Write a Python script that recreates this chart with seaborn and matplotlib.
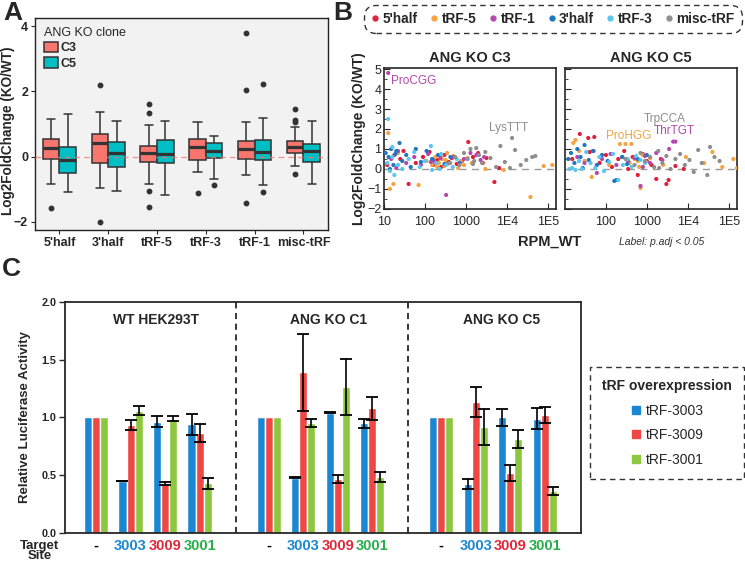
import matplotlib
matplotlib.use('Agg')

import pandas as pd
import matplotlib.pyplot as plt
import seaborn as sns
from matplotlib.lines import Line2D
from matplotlib.patches import Patch

# ---------------- Panel A: box summaries ----------------
box_cats = ["5'half", "3'half", "tRF-5", "tRF-3", "tRF-1", "misc-tRF"]
c3_low = [-0.84, -0.95, -0.83, -0.46, -0.56, -0.29]
c3_q1 = [-0.06, -0.21, -0.17, -0.10, -0.06, 0.10]
c3_med = [0.26, 0.41, 0.11, 0.29, 0.23, 0.29]
c3_q3 = [0.53, 0.69, 0.34, 0.55, 0.49, 0.48]
c3_high = [1.14, 1.36, 0.96, 1.07, 1.06, 0.90]
c3_out = [[-1.57], [2.20, -2.00], [1.62, 1.33, -1.07, -1.54], [-1.12],
          [3.78, 2.03, -1.41], [1.47, 1.11, 1.07, -0.52]]
c5_low = [-1.10, -1.05, -1.17, -0.69, -0.88, -0.85]
c5_q1 = [-0.51, -0.32, -0.21, -0.05, -0.11, -0.18]
c5_med = [-0.10, 0.12, 0.07, 0.17, 0.15, 0.17]
c5_q3 = [0.29, 0.45, 0.51, 0.42, 0.52, 0.40]
c5_high = [1.31, 1.08, 1.10, 0.63, 1.18, 1.08]
c5_out = [[], [], [], [-0.86], [2.24, -1.09], []]

# ---------------- Panel B: scatter points (RPM_WT, log2FC) ----------------
frag_types = ["5'half", "tRF-5", "tRF-1", "3'half", "tRF-3", "misc-tRF"]
frag_colors = ["#E0203A", "#F4A340", "#B548AE", "#1D78C0", "#5CC6EE", "#8E8E8E"]

c3_x = {
    "5'half": [12, 18, 25, 40, 60, 90, 130, 160, 200, 250, 300, 380, 450, 600, 800, 1150, 1500, 2000, 2600, 3200, 5000, 6500, 30],
    "tRF-5": [12.7, 14, 17, 22, 70, 110, 150, 180, 220, 260, 300, 350, 420, 500, 650, 750, 900, 1100, 1400, 3000, 8500, 38000, 80000, 130000, 250, 200, 320],
    "tRF-1": [12.7, 15, 22, 35, 55, 80, 120, 170, 240, 330, 350, 500, 700, 900, 1300, 1800, 2300, 2800, 20, 140],
    "3'half": [11, 13, 15, 17, 20, 24, 28, 35, 45, 60, 80, 110, 150, 210, 300, 420, 700, 14, 19],
    "tRF-3": [12.7, 12, 14, 16, 18, 22, 28, 40, 55, 75, 100, 140, 150, 190, 250, 330, 480, 600, 16, 230],
    "misc-tRF": [13500, 400, 550, 700, 900, 1100, 1300, 1600, 1800, 2100, 2500, 3000, 4000, 5500, 7000, 9000, 12000, 16000, 22000, 30000, 42000, 50000, 1500],
}
c3_y = {
    "5'half": [0.2, 0.7, 0.5, -0.75, 0.3, 0.6, 0.85, 0.2, 0.45, 0.1, 0.7, 0.35, 0.55, 0.25, 0.4, 1.35, 0.6, 0.8, 0.3, 0.55, -0.65, 0.05, 0.9],
    "tRF-5": [1.8, -1.0, -0.75, 0.8, -0.8, 0.4, 0.2, 0.6, 0.3, 0.5, 0.15, 0.8, 0.3, 0.65, 0.05, 0.4, 0.2, 0.55, 0.3, 0.0, -0.05, -1.4, 0.15, 0.2, 0.7, 0.1, 0.45],
    "tRF-1": [4.8, 0.5, 0.9, 0.3, 0.6, 0.2, 0.75, 0.4, 0.55, -1.3, 0.25, 0.6, 0.3, 0.5, 0.8, 0.7, 0.45, 0.6, 0.05, 0.35],
    "3'half": [0.8, 0.6, 1.0, 0.2, 0.9, 1.3, 0.4, 0.7, 0.1, 1.0, 0.35, 0.9, 0.5, 0.7, 0.25, 0.6, 0.3, 0.0, 0.75],
    "tRF-3": [2.5, 0.3, -0.1, 0.6, -0.3, 0.2, 0.0, 0.5, 0.85, 0.1, 0.4, 1.15, -0.05, 0.3, 0.75, 0.2, 0.1, 0.5, 1.1, 0.0],
    "misc-tRF": [1.55, 0.3, 0.6, 0.2, 0.8, 0.5, 1.0, 0.4, 1.05, 0.7, 0.3, 0.85, 0.55, 0.1, 1.15, 0.35, 0.05, 0.95, 0.2, 0.45, 0.6, 0.65, 0.25],
}
c5_x = {
    "5'half": [15, 23, 37, 52, 70, 100, 140, 200, 280, 350, 450, 600, 800, 1000, 1300, 1700, 2200, 3000, 3400, 5000, 8000, 40],
    "tRF-5": [16, 18, 22, 30, 45, 70, 120, 220, 300, 420, 380, 500, 650, 800, 950, 1200, 700, 2500, 9000, 25000, 40000, 70000, 130000, 160000, 600],
    "tRF-1": [20, 30, 50, 80, 130, 180, 250, 350, 500, 700, 900, 1200, 1700, 2400, 3500, 4400, 5000, 800, 60],
    "3'half": [12, 14, 17, 20, 24, 30, 38, 48, 60, 80, 110, 160, 180, 250, 330, 600, 1000, 27],
    "tRF-3": [13, 15, 18, 22, 26, 33, 42, 55, 70, 90, 120, 150, 200, 260, 340, 420, 550, 700, 900],
    "misc-tRF": [300, 500, 700, 900, 1200, 1500, 1900, 2400, 3000, 3800, 5000, 6500, 8500, 11000, 14000, 18000, 22000, 30000, 35000, 45000, 60000, 2000],
}
c5_y = {
    "5'half": [0.5, 1.75, 1.55, 1.6, 0.3, 0.7, 0.1, 0.5, 0.9, 0.0, 0.6, -0.3, 0.75, 0.4, 0.2, -0.5, 0.5, -0.75, -0.55, 0.15, 0.0, 0.85],
    "tRF-5": [1.3, 1.45, 0.9, 0.4, -0.4, 0.6, 0.2, 1.25, 1.25, 1.25, 0.3, 0.5, 0.1, 0.7, 0.35, 0.55, -0.95, 0.2, 0.6, 0.3, 0.85, 0.1, 0.5, 0.05, 0.4],
    "tRF-1": [0.6, 0.3, 0.9, 0.5, 0.75, 0.2, 0.6, 0.4, 0.55, -0.85, 0.65, 0.3, 0.8, 0.45, 1.0, 1.37, 1.37, 0.1, -0.2],
    "3'half": [0.5, 0.8, 0.3, 1.0, 0.6, 1.2, 0.45, 0.9, 0.2, 0.7, 0.4, -0.6, -0.55, 0.6, 0.25, 0.5, 0.7, 0.05],
    "tRF-3": [0.0, 0.05, -0.05, 0.4, 0.0, 0.85, 0.3, 0.05, 0.6, -0.1, 0.35, 0.75, -0.55, 0.2, 0.5, 0.1, 0.65, 0.45, 0.3],
    "misc-tRF": [0.5, 0.2, 0.8, 0.4, 0.6, 0.1, 0.9, 0.3, 0.65, 0.0, 0.5, 0.75, 0.2, 0.45, -0.15, 0.95, 0.3, -0.3, 1.1, 0.6, 0.4, 0.05],
}
# labelled (p.adj < 0.05) tRNAs: name, x, y, type
c3_labels = [("ProCGG", 14.5, 4.4, "tRF-1"), ("LysTTT", 11000, 2.05, "misc-tRF")]
c5_labels = [("TrpCCA", 2800, 2.5, "misc-tRF"), ("ThrTGT", 4600, 1.92, "tRF-1"), ("ProHGG", 360, 1.66, "tRF-5")]

# ---------------- Panel C: luciferase bars ----------------
cell_lines = ["WT HEK293T", "ANG KO C1", "ANG KO C5"]
target_sites = ["-", "3003", "3009", "3001"]
overexp = ["tRF-3003", "tRF-3009", "tRF-3001"]
bar_colors = ["#1B87D2", "#EE4744", "#8DC63F"]
site_colors = ["black", "#1B87D2", "#E0283A", "#27AE4A"]
# rows: target site, cols: overexpressed tRF
wt_mean = [[1.0, 1.0, 1.0], [0.45, 0.935, 1.06], [0.965, 0.43, 0.99], [0.94, 0.865, 0.43]]
wt_err = [[0, 0, 0], [0.004, 0.04, 0.04], [0.045, 0.012, 0.022], [0.09, 0.075, 0.05]]
c1_mean = [[1.0, 1.0, 1.0], [0.48, 1.39, 0.955], [1.04, 0.47, 1.265], [0.95, 1.08, 0.485]]
c1_err = [[0, 0, 0], [0.008, 0.33, 0.035], [0.004, 0.035, 0.24], [0.04, 0.1, 0.04]]
c5_mean = [[1.0, 1.0, 1.0], [0.425, 1.13, 0.915], [1.0, 0.52, 0.815], [0.99, 1.02, 0.36]]
c5_err = [[0, 0, 0], [0.045, 0.13, 0.155], [0.07, 0.07, 0.075], [0.088, 0.07, 0.035]]

sns.set_style("ticks")
plt.rcParams['font.family'] = ['Liberation Sans', 'DejaVu Sans']
plt.rcParams['axes.linewidth'] = 1.0

fig = plt.figure(figsize=(7.45, 5.63), dpi=100)


def expand_box(lo, q1, md, q3, hi, outs):
    # raw values whose quartiles/whiskers reproduce the summary
    low_out = [v for v in outs if v < lo]
    high_out = [v for v in outs if v > hi]
    return low_out + [lo] + [q1] * 6 + [md] * 5 + [q3] * 6 + [hi] + high_out


rows = []
for i, cat in enumerate(box_cats):
    for v in expand_box(c3_low[i], c3_q1[i], c3_med[i], c3_q3[i], c3_high[i], c3_out[i]):
        rows.append({"group": cat, "clone": "C3", "log2fc": v})
    for v in expand_box(c5_low[i], c5_q1[i], c5_med[i], c5_q3[i], c5_high[i], c5_out[i]):
        rows.append({"group": cat, "clone": "C5", "log2fc": v})
df_a = pd.DataFrame(rows)

# ---- Panel A ----
clone_pal = {"C3": "#F8766D", "C5": "#00BFC4"}
ax_a = fig.add_axes([0.047, 0.5915, 0.393, 0.3766])
ax_a.set_facecolor("#F2F2F2")
sns.boxplot(data=df_a, x="group", y="log2fc", hue="clone", order=box_cats, hue_order=["C3", "C5"],
            palette=clone_pal, width=0.68, gap=0, linecolor="#333333", linewidth=1.1, saturation=1,
            fliersize=3.2, flierprops=dict(marker="o", markerfacecolor="#333333", markeredgecolor="#333333"),
            medianprops=dict(linewidth=2.3, color="#333333"), legend=False, ax=ax_a)
ax_a.axhline(0, color="#F8766D", ls=(0, (4, 3)), lw=1.0, alpha=0.75, zorder=6)
ax_a.set_ylim(-2.25, 4.25)
ax_a.set_yticks([-2, 0, 2, 4])
ax_a.set_xlabel("")
ax_a.set_ylabel("Log2FoldChange (KO/WT)", fontsize=9.8, fontweight="bold")
ax_a.yaxis.set_label_coords(-0.068, 0.47)
ax_a.tick_params(axis="both", labelsize=9, length=3, width=0.8, pad=2)
for lab in ax_a.get_xticklabels() + ax_a.get_yticklabels():
    lab.set_fontweight("bold")
for sp in ax_a.spines.values():
    sp.set_color("#222222")
a_handles = [Patch(facecolor=clone_pal[c], edgecolor="#333333", linewidth=1.1) for c in ["C3", "C5"]]
leg_a = ax_a.legend(a_handles, ["C3", "C5"], title="ANG KO clone", loc="upper left", frameon=False,
                    fontsize=9, title_fontsize=9, handlelength=1.1, handleheight=0.9,
                    handletextpad=0.2, labelspacing=0.25, borderaxespad=0.3)
leg_a._legend_box.align = "left"
for t in leg_a.get_texts():
    t.set_fontweight("bold")

# ---- Panel B ----
type_pal = dict(zip(frag_types, frag_colors))


def scatter_frame(xs, ys):
    recs = []
    for t in frag_types:
        for x, y in zip(xs[t], ys[t]):
            recs.append({"rpm": x, "lfc": y, "type": t})
    return pd.DataFrame(recs)


for k, (xs, ys, title, labels, left) in enumerate([
        (c3_x, c3_y, "ANG KO C3", c3_labels, 0.5154),
        (c5_x, c5_y, "ANG KO C5", c5_labels, 0.7584)]):
    ax = fig.add_axes([left, 0.6288, 0.2309, 0.2504])
    df_b = scatter_frame(xs, ys)
    ax.axhline(0, color="#9A9A9A", ls=(0, (5, 4)), lw=1.0, zorder=1)
    sns.scatterplot(data=df_b, x="rpm", y="lfc", hue="type", palette=type_pal, s=9,
                    linewidth=0, legend=False, ax=ax, zorder=3)
    ax.set_xscale("log")
    ax.set_xlim(10, 1.6e5)
    ax.set_ylim(-2, 5.05)
    ax.set_yticks(range(-2, 6))
    ax.set_yticks([v / 2 for v in range(-4, 11)], minor=True)
    if k == 0:
        ax.set_xticks([10, 100, 1000, 1e4, 1e5])
        ax.set_xticklabels(["10", "100", "1000", "1E4", "1E5"])
        ax.set_ylabel("Log2FoldChange (KO/WT)", fontsize=10, fontweight="bold", labelpad=1)
    else:
        ax.set_xticks([100, 1000, 1e4, 1e5])
        ax.set_xticklabels(["100", "1000", "1E4", "1E5"])
        ax.set_yticklabels([])
        ax.set_ylabel("")
    ax.set_xlabel("")
    ax.tick_params(which="both", direction="in", labelsize=9)
    ax.tick_params(axis="x", pad=5)
    ax.tick_params(axis="y", pad=2)
    ax.tick_params(which="major", length=4)
    ax.tick_params(which="minor", length=2.5)
    ax.set_title(title, fontsize=10.5, fontweight="bold", pad=4)
    for sp in ax.spines.values():
        sp.set_linewidth(1.2)
    for name, x, y, t in labels:
        ax.text(x, y, name, color=type_pal[t], fontsize=8.5, ha="center" if x > 20 else "left",
                va="center", zorder=5)

fig.text(550 / 745, 1 - 242 / 563, "RPM_WT", fontsize=10.5, fontweight="bold", ha="center", va="center")
fig.text(662 / 745, 1 - 242 / 563, "Label: p.adj < 0.05", fontsize=7.5, style="italic",
         ha="center", va="center", color="#333333")

b_handles = [Line2D([], [], marker="o", ls="", color=c, markersize=3.5) for c in frag_colors]
leg_b = fig.legend(b_handles, frag_types, loc="center", bbox_to_anchor=(553 / 745, 1 - 19 / 563),
                   ncol=6, fontsize=9.8, frameon=True, fancybox=True, handlelength=0.6,
                   handletextpad=0.25, columnspacing=0.9, borderpad=0.45)
frame = leg_b.get_frame()
frame.set_linestyle((0, (4, 3)))
frame.set_edgecolor("black")
frame.set_linewidth(1.0)
frame.set_facecolor("white")
frame.set_boxstyle("round,pad=0.1,rounding_size=0.9")
for t in leg_b.get_texts():
    t.set_fontweight("bold")

# ---- Panel C ----
slot_order = []
c_rows = []
for ci, (line, means, errs) in enumerate(zip(cell_lines, [wt_mean, c1_mean, c5_mean], [wt_err, c1_err, c5_err])):
    for si, site in enumerate(target_sites):
        slot = f"{line}|{site}"
        slot_order.append(slot)
        for oi, tr in enumerate(overexp):
            c_rows.append({"slot": slot, "tRF": tr, "activity": means[si][oi], "err": errs[si][oi]})
    if ci < len(cell_lines) - 1:
        slot_order.append(f"gap{ci}")
df_c = pd.DataFrame(c_rows)
err_lookup = {(r.slot, r.tRF): r.err for r in df_c.itertuples()}

ax_c = fig.add_axes([0.0872, 0.0533, 0.6926, 0.4103])
sns.barplot(data=df_c, x="slot", y="activity", hue="tRF", order=slot_order, hue_order=overexp,
            palette=dict(zip(overexp, bar_colors)), width=0.7, saturation=1, errorbar=None,
            legend=False, ax=ax_c)
for cont, tr in zip(ax_c.containers, overexp):
    for bar in cont:
        cx = bar.get_x() + bar.get_width() / 2
        slot = slot_order[int(round(cx))]
        e = err_lookup.get((slot, tr), 0)
        if e > 0:
            ax_c.errorbar(cx, bar.get_height(), yerr=e, fmt="none", ecolor="black",
                          elinewidth=1.2, capsize=4, capthick=1.3, zorder=4)

ax_c.set_xlim(-0.9, len(slot_order) + 0.05)
ax_c.set_ylim(0, 2.0)
ax_c.set_yticks([0, 0.5, 1.0, 1.5, 2.0])
ax_c.set_yticklabels(["0.0", "0.5", "1.0", "1.5", "2.0"])
site_pos = [i for i, s in enumerate(slot_order) if not s.startswith("gap")]
ax_c.set_xticks(site_pos)
ax_c.set_xticklabels([slot_order[i].split("|")[1] for i in site_pos])
for lab, i in zip(ax_c.get_xticklabels(), site_pos):
    lab.set_color(site_colors[target_sites.index(slot_order[i].split("|")[1])])
    lab.set_fontweight("bold")
    lab.set_fontsize(10.5)
for lab in ax_c.get_yticklabels():
    lab.set_fontweight("bold")
    lab.set_fontsize(7.8)
ax_c.tick_params(axis="x", length=0, pad=4)
ax_c.tick_params(axis="y", length=4, width=1, pad=2)
ax_c.set_xlabel("")
ax_c.set_ylabel("Relative Luciferase Activity", fontsize=9.5, fontweight="bold", labelpad=8)
for sp in ax_c.spines.values():
    sp.set_linewidth(1.3)
for i, s in enumerate(slot_order):
    if s.startswith("gap"):
        ax_c.axvline(i + 0.05, color="black", ls=(0, (4, 3)), lw=1.1)
for ci, line in enumerate(cell_lines):
    grp = [i for i, s in enumerate(slot_order) if s.startswith(line + "|")]
    ax_c.text(sum(grp) / len(grp) + 0.25, 1.84, line, ha="center", va="center",
              fontsize=10, fontweight="bold")

fig.text(40 / 745, 1 - 551 / 563, "Target\nSite", ha="center", va="center", fontsize=9.5,
         fontweight="bold", linespacing=0.78)

c_handles = [Line2D([], [], marker="s", ls="", color=c, markersize=6) for c in bar_colors]
leg_c = fig.legend(c_handles, overexp, title="tRF overexpression", loc="center",
                   bbox_to_anchor=(667 / 745, 1 - 423 / 563), fontsize=10, title_fontsize=10,
                   frameon=True, fancybox=False, handlelength=0.8, handletextpad=0.3,
                   labelspacing=0.75, borderpad=0.9)
leg_c.get_title().set_fontweight("bold")
fc = leg_c.get_frame()
fc.set_linestyle((0, (4, 3)))
fc.set_edgecolor("black")
fc.set_linewidth(1.0)

# panel letters
fig.text(0.004, 0.998, "A", fontsize=19, fontweight="bold", va="top")
fig.text(333 / 745, 0.998, "B", fontsize=19, fontweight="bold", va="top")
fig.text(0.002, 1 - 257 / 563, "C", fontsize=19, fontweight="bold", va="top")

fig.savefig("out.png", dpi=100)
plt.close(fig)
